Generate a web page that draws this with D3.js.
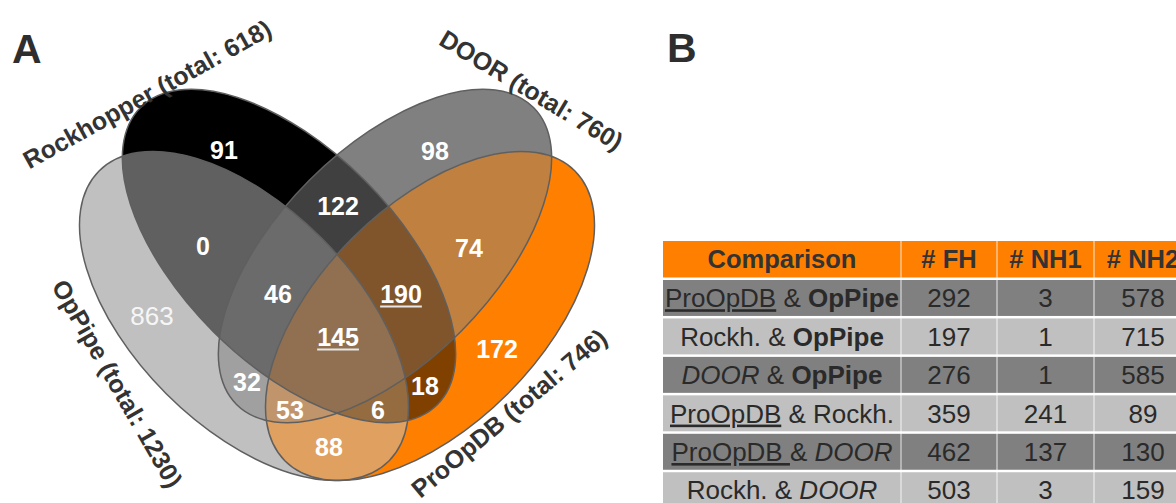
<!DOCTYPE html>
<html>
<head>
<meta charset="utf-8">
<script src="https://cdn.jsdelivr.net/npm/d3@7"></script>
<style>
  html, body { margin: 0; padding: 0; background: #fff; overflow: hidden; }
  svg { display: block; font-family: "Liberation Sans", Arial, sans-serif; }
</style>
</head>
<body>
<svg id="chart" width="1176" height="503"></svg>
<script>
// ---------------- data ----------------
const setKeys   = ["O", "R", "D", "P"];
const setNames  = ["OpPipe", "Rockhopper", "DOOR", "ProOpDB"];
const setTotals = [1230, 618, 760, 746];
const setColors = ["#c0c0c0", "#000000", "#808080", "#ff8000"];

// each region is named by the sets it belongs to
const regionKeys   = ["O", "R", "D", "P", "OR", "RD", "DP", "OP", "OD", "RP", "ORD", "RDP", "ODP", "ORP", "ORDP"];
const regionCounts = [863, 91, 98, 172, 0, 122, 74, 88, 32, 18, 46, 190, 53, 6, 145];
const underlinedRegions = ["RDP", "ORDP"];

const tableHeader = ["Comparison", "# FH", "# NH1", "# NH2"];
// comparison labels as styled pieces: u = underline, b = bold, i = italic
const comparisons = [
  [["ProOpDB", "u"], [" & ", ""], ["OpPipe", "b"]],
  [["Rockh. & ", ""], ["OpPipe", "b"]],
  [["DOOR", "i"], [" & ", ""], ["OpPipe", "b"]],
  [["ProOpDB", "u"], [" & Rockh.", ""]],
  [["ProOpDB ", "u"], ["& ", ""], ["DOOR", "i"]],
  [["Rockh. & ", ""], ["DOOR", "i"]]
];
const fhCounts  = [292, 197, 276, 359, 462, 503];
const nh1Counts = [3, 1, 1, 241, 137, 3];
const nh2Counts = [578, 715, 585, 89, 130, 159];

// ---------------- layout ----------------
const W = 1176, H = 503;
const ellipseGeom = {
  O: { cx: 244,   cy: 316, rx: 205, ry: 110, angle: 45 },
  R: { cx: 289,   cy: 256, rx: 210, ry: 107, angle: 45 },
  D: { cx: 385,   cy: 256, rx: 210, ry: 107, angle: -45 },
  P: { cx: 430,   cy: 316, rx: 205, ry: 110, angle: -45 }
};
const regionLabelPos = {
  O: [152, 316], R: [224, 150], D: [435, 151], P: [497, 349],
  OR: [203, 246], RD: [338, 206], DP: [469, 248], OP: [329, 447],
  OD: [247, 382], RP: [425, 386], ORD: [278, 294], RDP: [401, 294],
  ODP: [290, 410], ORP: [378, 410], ORDP: [338, 337]
};
const setLabelPos = {
  O: { x: 117.5, y: 383.5, angle: 60 },
  R: { x: 147,   y: 94,    angle: -29 },
  D: { x: 531.5, y: 90,    angle: 31 },
  P: { x: 509,   y: 413,   angle: -40 }
};

const svg = d3.select("#chart");
svg.append("rect").attr("width", W).attr("height", H).attr("fill", "#fff");
const defs = svg.append("defs");

const colorOf = k => setColors[setKeys.indexOf(k)];
function mixColor(keys) {
  const cs = keys.map(k => d3.rgb(colorOf(k)));
  return d3.rgb(d3.mean(cs, c => c.r), d3.mean(cs, c => c.g), d3.mean(cs, c => c.b)).formatHex();
}
function ellipseAttrs(sel, k) {
  const e = ellipseGeom[k];
  return sel.attr("cx", e.cx).attr("cy", e.cy).attr("rx", e.rx).attr("ry", e.ry)
    .attr("transform", `rotate(${e.angle},${e.cx},${e.cy})`);
}

// clip paths, one per set
setKeys.forEach(k => {
  ellipseAttrs(defs.append("clipPath").attr("id", "clip-" + k).append("ellipse"), k);
});

// ---------------- panel A: Venn diagram ----------------
const venn = svg.append("g");

regionKeys.forEach(key => {
  const members = key.split("");
  const others = setKeys.filter(k => !members.includes(k));
  const mask = defs.append("mask").attr("id", "mask-" + key)
    .attr("maskUnits", "userSpaceOnUse").attr("x", 0).attr("y", 0).attr("width", W).attr("height", H);
  mask.append("rect").attr("width", W).attr("height", H).attr("fill", "#fff");
  others.forEach(k => ellipseAttrs(mask.append("ellipse"), k).attr("fill", "#000"));
  let g = venn.append("g").attr("mask", `url(#mask-${key})`);
  members.forEach(k => { g = g.append("g").attr("clip-path", `url(#clip-${k})`); });
  g.append("rect").attr("width", W).attr("height", H).attr("fill", mixColor(members));
});

// outlines
venn.selectAll("ellipse.outline").data(setKeys).join("ellipse")
  .attr("class", "outline")
  .each(function (k) { ellipseAttrs(d3.select(this), k); })
  .attr("fill", "none").attr("stroke", "#5f5f5f").attr("stroke-width", 1.5);

// region counts
const regionLabels = venn.selectAll("g.rlabel").data(regionKeys).join("g").attr("class", "rlabel")
  .attr("transform", k => `translate(${regionLabelPos[k][0]},${regionLabelPos[k][1]})`);
regionLabels.append("text")
  .attr("text-anchor", "middle").attr("dy", "0.36em")
  .attr("font-size", k => k === "O" ? 26 : 25).attr("font-weight", k => k === "O" ? 400 : 700)
  .attr("fill", k => k === "O" ? "#f6f6f6" : "#ffffff")
  .text(k => regionCounts[regionKeys.indexOf(k)]);
regionLabels.filter(k => underlinedRegions.includes(k)).each(function () {
  const g = d3.select(this);
  const bb = g.select("text").node().getBBox();
  g.append("line").attr("x1", bb.x).attr("x2", bb.x + bb.width)
    .attr("y1", 12.5).attr("y2", 12.5).attr("stroke", "#e6e6e6").attr("stroke-width", 2);
});

// set names
venn.selectAll("text.setname").data(setKeys).join("text")
  .attr("class", "setname")
  .attr("transform", k => `translate(${setLabelPos[k].x},${setLabelPos[k].y}) rotate(${setLabelPos[k].angle})`)
  .attr("text-anchor", "middle").attr("dy", "0.36em")
  .attr("font-size", 25).attr("font-weight", 700).attr("fill", "#333")
  .text(k => { const i = setKeys.indexOf(k); return `${setNames[i]} (total: ${setTotals[i]})`; });

// panel letters
svg.append("text").attr("x", 12).attr("y", 63).attr("font-size", 41).attr("font-weight", 700)
  .attr("fill", "#2e2e2e").text("A");
svg.append("text").attr("x", 667).attr("y", 62).attr("font-size", 41).attr("font-weight", 700)
  .attr("fill", "#2e2e2e").text("B");

// ---------------- panel B: table ----------------
const colEdges = [663, 901, 997, 1094, 1192];
const colX = i => colEdges[i];
const colW = i => colEdges[i + 1] - colEdges[i];
const headerTop = 241, headerH = 36.5;
const rowY = d3.scaleBand().domain(d3.range(comparisons.length)).range([279, 279 + 6 * 38.45]);

const table = svg.append("g");
table.append("rect").attr("x", colEdges[0]).attr("y", headerTop)
  .attr("width", colEdges[4] - colEdges[0]).attr("height", headerH).attr("fill", "#ff8000");
table.selectAll("text.head").data(tableHeader).join("text").attr("class", "head")
  .attr("x", (d, i) => colX(i) + colW(i) / 2).attr("y", headerTop + headerH / 2 + 9)
  .attr("text-anchor", "middle").attr("font-size", 25.5).attr("font-weight", 700).attr("fill", "#333")
  .text(d => d);

const rows = table.selectAll("g.row").data(comparisons).join("g").attr("class", "row")
  .attr("transform", (d, i) => `translate(0,${rowY(i)})`);
rows.append("rect").attr("x", colEdges[0]).attr("y", 1)
  .attr("width", colEdges[4] - colEdges[0]).attr("height", rowY.bandwidth() - 2.5)
  .attr("fill", (d, i) => i % 2 === 0 ? "#808080" : "#c0c0c0");

const rowText = rows.append("text")
  .attr("x", colX(0) + colW(0) / 2).attr("y", rowY.bandwidth() / 2 + 9)
  .attr("text-anchor", "middle").attr("font-size", 26).attr("fill", "#2a2a2a")
  .style("white-space", "pre");
rowText.selectAll("tspan").data(d => d).join("tspan")
  .attr("font-weight", p => p[1] === "b" ? 700 : 400)
  .attr("font-style", p => p[1] === "i" ? "italic" : "normal")
  .attr("text-decoration", p => p[1] === "u" ? "underline" : "none")
  .text(p => p[0]);

[fhCounts, nh1Counts, nh2Counts].forEach((vals, c) => {
  rows.append("text")
    .attr("x", colX(c + 1) + colW(c + 1) / 2).attr("y", rowY.bandwidth() / 2 + 9)
    .attr("text-anchor", "middle").attr("font-size", 26).attr("fill", "#2a2a2a")
    .text((d, i) => vals[i]);
});

// column separators
table.selectAll("line.sep").data(colEdges.slice(1, 4)).join("line").attr("class", "sep")
  .attr("x1", d => d).attr("x2", d => d).attr("y1", headerTop).attr("y2", H)
  .attr("stroke", "#ffffff").attr("stroke-opacity", 0.55).attr("stroke-width", 1.5);
</script>
</body>
</html>
